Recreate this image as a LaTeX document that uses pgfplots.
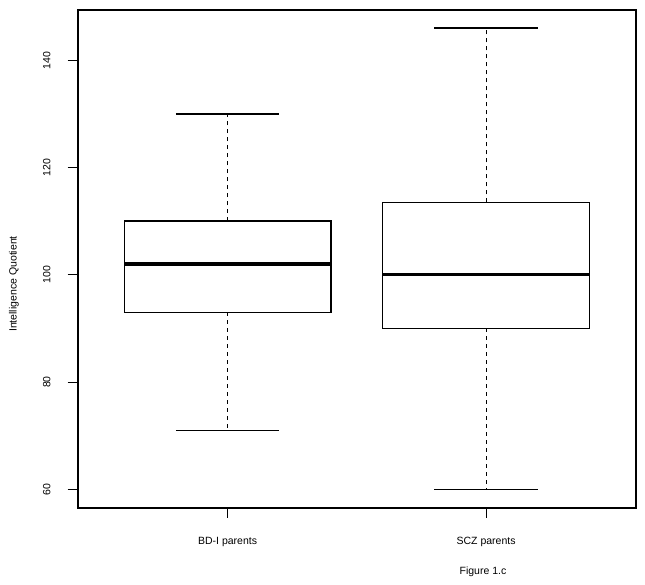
\documentclass[border=0pt]{standalone}
\usepackage{pgfplots}
\pgfplotsset{compat=1.18}
\usepackage{fontspec}
\setmainfont{Liberation Sans}
\begin{document}
\begin{tikzpicture}
\useasboundingbox (0,0) rectangle (645pt,585pt);
\begin{axis}[
  at={(77.7pt,77.3pt)}, anchor=south west,
  scale only axis, width=558.3pt, height=498pt,
  xmin=0.42, xmax=2.58, ymin=56.56, ymax=149.44,
  xtick={1,2}, xticklabels={BD-I parents, SCZ parents},
  ytick={60,80,100,120,140},
  tick align=outside, major tick length=10pt,
  xtick pos=bottom, ytick pos=left,
  tick style={black, line width=1pt},
  axis line style={line width=1.8pt},
  /pgf/number format/assume math mode=true,
  tick label style={font=\fontsize{10.5}{12}\selectfont},
  yticklabel style={rotate=90, anchor=south, inner sep=0pt},
  xticklabel style={anchor=north, inner sep=0pt},
  yticklabel shift=17pt,
  xticklabel shift=19pt,
  clip=false,
]
% BD-I parents: whiskers 71/130, quartiles 93/110, median 102
\addplot[black, line width=0.9pt, dash pattern=on 4pt off 4pt] coordinates {(1,110) (1,130)};
\addplot[black, line width=0.9pt, dash pattern=on 4pt off 4pt] coordinates {(1,93) (1,71)};
\addplot[black, line width=1.4pt] coordinates {(0.8,130) (1.2,130)};
\addplot[black, line width=1.4pt] coordinates {(0.8,71) (1.2,71)};
\addplot[black, line width=1.4pt, fill=white] coordinates {(0.6,93) (1.4,93) (1.4,110) (0.6,110)} -- cycle;
\addplot[black, line width=3.4pt] coordinates {(0.6,102) (1.4,102)};
% SCZ parents: whiskers 60/146, quartiles 90/113.5, median 100
\addplot[black, line width=0.9pt, dash pattern=on 4pt off 4pt] coordinates {(2,113.5) (2,146)};
\addplot[black, line width=0.9pt, dash pattern=on 4pt off 4pt] coordinates {(2,90) (2,60)};
\addplot[black, line width=1.4pt] coordinates {(1.8,146) (2.2,146)};
\addplot[black, line width=1.4pt] coordinates {(1.8,60) (2.2,60)};
\addplot[black, line width=1.4pt, fill=white] coordinates {(1.6,90) (2.4,90) (2.4,113.5) (1.6,113.5)} -- cycle;
\addplot[black, line width=3.4pt] coordinates {(1.6,100) (2.4,100)};
\end{axis}
\node[rotate=90, font=\fontsize{10.5}{12}\selectfont] at (14pt,301pt) {Intelligence Quotient};
\node[font=\fontsize{10.5}{12}\selectfont] at (483pt,13.5pt) {Figure 1.c};
\end{tikzpicture}
\end{document}
